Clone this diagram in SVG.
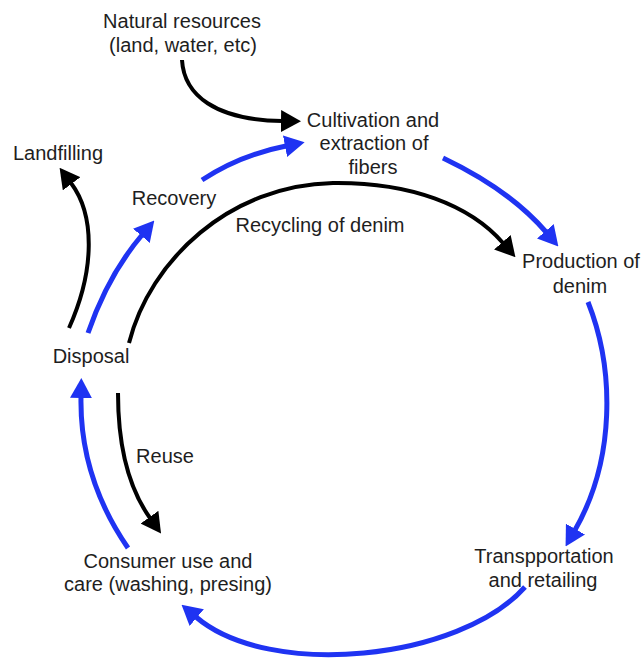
<svg xmlns="http://www.w3.org/2000/svg" width="642" height="659" viewBox="0 0 642 659">
<style>
.t{font-family:"Liberation Sans",Arial,sans-serif;font-size:20px;fill:#1e1e1e;text-anchor:middle}
.b{fill:none;stroke:#1f33f2;stroke-width:5}
.k{fill:none;stroke:#000;stroke-width:4}
</style>
<defs>
<marker id="ab" viewBox="0 0 20 22" refX="1" refY="11" markerWidth="20" markerHeight="22" markerUnits="userSpaceOnUse" orient="auto"><path d="M0,0 L20,11 L0,22 z" fill="#1f33f2"/></marker>
<marker id="ak" viewBox="0 0 20 22" refX="1" refY="11" markerWidth="20" markerHeight="22" markerUnits="userSpaceOnUse" orient="auto"><path d="M0,0 L20,11 L0,22 z" fill="#000"/></marker>
</defs>
<rect width="642" height="659" fill="#fff"/>
<g id="connectors">
<path class="k" d="M182,60 C184,95 215,120 282,121" marker-end="url(#ak)"/>
<path class="b" d="M202,180 Q240,155 286,146" marker-end="url(#ab)"/>
<path class="k" d="M69,328 C95,270 95,215 71,183" marker-end="url(#ak)"/>
<path class="b" d="M88,333 Q108,275 142,235" marker-end="url(#ab)"/>
<path class="k" d="M129,343 C150,260 230,185 333,183 C410,182 470,205 503,243" marker-end="url(#ak)"/>
<path class="b" d="M443,158 Q510,190 546,232" marker-end="url(#ab)"/>
<path class="b" d="M588,302 C615,370 615,460 575,530" marker-end="url(#ab)"/>
<path class="b" d="M525,587 C460,660 270,680 196,617" marker-end="url(#ab)"/>
<path class="b" d="M128,548 C95,500 80,450 81,397" marker-end="url(#ab)"/>
<path class="k" d="M118,393 C118,450 130,490 150,518" marker-end="url(#ak)"/>
</g>
<g id="natural-resources"><text class="t" x="182" y="28">Natural resources</text><text class="t" x="183" y="52">(land, water, etc)</text></g>
<g id="cultivation"><text class="t" x="373" y="127">Cultivation and</text><text class="t" x="374" y="150">extraction of</text><text class="t" x="373" y="174">fibers</text></g>
<g id="landfilling"><text class="t" x="58" y="160">Landfilling</text></g>
<g id="recovery"><text class="t" x="174" y="205">Recovery</text></g>
<g id="recycling"><text class="t" x="320" y="232">Recycling of denim</text></g>
<g id="production"><text class="t" x="581" y="268">Production of</text><text class="t" x="580" y="293">denim</text></g>
<g id="disposal"><text class="t" x="91" y="363">Disposal</text></g>
<g id="reuse"><text class="t" x="165" y="463">Reuse</text></g>
<g id="transportation"><text class="t" x="544" y="563">Transpportation</text><text class="t" x="543" y="587">and retailing</text></g>
<g id="consumer"><text class="t" x="168" y="568">Consumer use and</text><text class="t" x="168" y="591">care (washing, presing)</text></g>
</svg>
